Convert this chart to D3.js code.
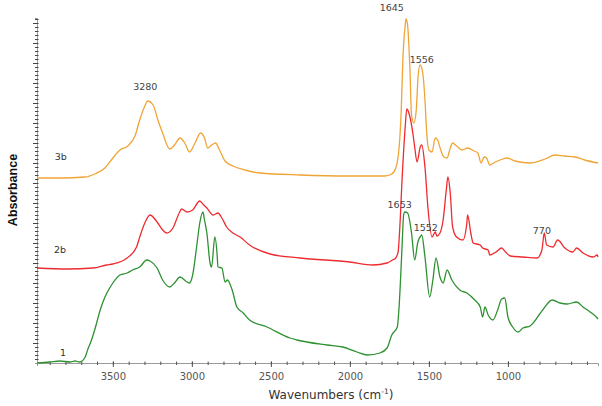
<!DOCTYPE html>
<html>
<head>
<meta charset="utf-8">
<script src="https://cdn.jsdelivr.net/npm/d3@7"></script>
<style>
  body { margin: 0; background: #fff; }
  svg { display: block; }
</style>
</head>
<body>
<svg class="chart" width="602" height="406"></svg>
<script>
// spectra as [wavenumber (cm-1), absorbance]
const spectrum3b = [
  [3980, 1.85], [3835, 1.85], [3675, 1.86], [3615, 1.89], [3550, 1.95], [3500, 2.05],
  [3455, 2.13], [3405, 2.17], [3360, 2.27], [3330, 2.43], [3295, 2.58], [3280, 2.62],
  [3245, 2.58], [3215, 2.43], [3185, 2.30], [3140, 2.14], [3110, 2.18], [3075, 2.25],
  [3045, 2.20], [3015, 2.11], [2980, 2.20], [2945, 2.30], [2920, 2.25], [2900, 2.15],
  [2875, 2.18], [2850, 2.20], [2825, 2.13], [2790, 2.02], [2740, 1.97], [2665, 1.93],
  [2570, 1.90], [2315, 1.88], [2000, 1.87], [1780, 1.87], [1735, 1.89], [1710, 1.95],
  [1690, 2.13], [1675, 2.53], [1665, 3.03], [1650, 3.38], [1645, 3.44], [1635, 3.38],
  [1620, 2.93], [1610, 2.48], [1595, 2.40], [1580, 2.53], [1570, 2.83], [1556, 2.98],
  [1540, 2.91], [1525, 2.63], [1515, 2.33], [1500, 2.13], [1480, 2.11], [1460, 2.25],
  [1445, 2.23], [1425, 2.13], [1405, 2.06], [1385, 2.05], [1365, 2.15], [1350, 2.20],
  [1325, 2.17], [1290, 2.13], [1255, 2.15], [1215, 2.12], [1190, 2.10], [1170, 2.00],
  [1150, 2.06], [1135, 2.05], [1115, 1.98], [1080, 2.01], [1050, 2.03], [1005, 2.05],
  [955, 2.02], [860, 2.00], [765, 2.04], [700, 2.08], [640, 2.07], [575, 2.06],
  [515, 2.03], [430, 2.00]
];

const spectrum2b = [
  [3980, 0.95], [3790, 0.94], [3625, 0.95], [3540, 0.98], [3500, 0.99], [3410, 1.05],
  [3350, 1.16], [3330, 1.26], [3295, 1.41], [3265, 1.48], [3220, 1.41], [3185, 1.33],
  [3160, 1.30], [3120, 1.35], [3080, 1.50], [3065, 1.54], [3030, 1.51], [2995, 1.53],
  [2950, 1.62], [2925, 1.58], [2905, 1.55], [2865, 1.48], [2835, 1.50], [2810, 1.45],
  [2780, 1.36], [2740, 1.30], [2695, 1.26], [2635, 1.18], [2505, 1.09], [2315, 1.05],
  [2000, 1.01], [1855, 0.98], [1765, 1.00], [1730, 1.03], [1710, 1.05], [1695, 1.11],
  [1685, 1.33], [1670, 1.83], [1650, 2.36], [1640, 2.54], [1620, 2.46], [1600, 2.28],
  [1590, 2.16], [1575, 2.01], [1555, 2.16], [1545, 2.18], [1525, 1.96], [1505, 1.53],
  [1480, 1.26], [1460, 1.31], [1450, 1.27], [1430, 1.30], [1410, 1.43], [1390, 1.73],
  [1380, 1.86], [1365, 1.70], [1350, 1.36], [1325, 1.26], [1285, 1.23], [1260, 1.40],
  [1255, 1.48], [1235, 1.30], [1220, 1.20], [1175, 1.18], [1160, 1.15], [1125, 1.13],
  [1115, 1.08], [1075, 1.11], [1040, 1.15], [1015, 1.11], [985, 1.07], [905, 1.06],
  [815, 1.05], [785, 1.13], [770, 1.30], [755, 1.18], [715, 1.16], [685, 1.23],
  [640, 1.15], [590, 1.11], [565, 1.15], [525, 1.10], [460, 1.06], [435, 1.08], [430, 1.06]
];

const spectrum1 = [
  [3980, 0.00], [3900, 0.01], [3835, 0.02], [3770, 0.01], [3740, 0.02], [3710, 0.01],
  [3675, 0.06], [3660, 0.13], [3635, 0.23], [3615, 0.33], [3580, 0.53], [3550, 0.66],
  [3520, 0.75], [3500, 0.80], [3455, 0.88], [3410, 0.90], [3375, 0.93], [3330, 0.96],
  [3285, 1.03], [3265, 1.02], [3220, 0.95], [3185, 0.83], [3140, 0.76], [3110, 0.80],
  [3075, 0.86], [3030, 0.81], [3015, 0.80], [2995, 0.88], [2970, 1.16], [2950, 1.40],
  [2930, 1.51], [2920, 1.43], [2905, 1.30], [2885, 1.00], [2875, 0.96], [2855, 1.26],
  [2840, 1.08], [2835, 0.96], [2810, 0.95], [2790, 0.81], [2775, 0.83], [2745, 0.73],
  [2715, 0.56], [2675, 0.50], [2635, 0.43], [2525, 0.36], [2380, 0.25], [2335, 0.23],
  [2145, 0.18], [2045, 0.16], [1955, 0.11], [1890, 0.08], [1810, 0.10], [1765, 0.15],
  [1735, 0.28], [1700, 0.36], [1690, 0.53], [1670, 1.16], [1660, 1.48], [1653, 1.51],
  [1635, 1.50], [1610, 1.30], [1590, 1.03], [1570, 1.21], [1552, 1.27], [1545, 1.28],
  [1525, 1.06], [1495, 0.66], [1475, 0.83], [1455, 1.05], [1430, 0.86], [1410, 0.80],
  [1385, 0.93], [1355, 0.83], [1305, 0.73], [1260, 0.70], [1210, 0.63], [1175, 0.56],
  [1160, 0.46], [1145, 0.56], [1125, 0.48], [1095, 0.43], [1065, 0.53], [1040, 0.64],
  [1020, 0.65], [1000, 0.46], [970, 0.36], [935, 0.31], [905, 0.35], [860, 0.37],
  [780, 0.53], [720, 0.63], [670, 0.60], [625, 0.59], [565, 0.61], [525, 0.56],
  [480, 0.51], [435, 0.45], [430, 0.44]
];

const seriesNames = ["3b", "2b", "1"];
const seriesColors = ["#F0A436", "#EE2B2E", "#2F9132"];
const seriesLabelPos = [[3830, 2.06], [3835, 1.13], [3815, 0.10]];

// peak annotations: text, wavenumber, absorbance of the label centre
const peakTexts = ["3280", "1645", "1556", "1653", "1552", "770"];
const peakLabelPos = [[3295, 2.76], [1735, 3.55], [1545, 3.03], [1685, 1.58], [1520, 1.35], [785, 1.32]];

const xTickLabels = [3500, 3000, 2500, 2000, 1500, 1000];

const svg = d3.select('.chart');
const plot = { left: 37, right: 598, top: 18, bottom: 363 };

const x = d3.scaleLinear().domain([3980, 430]).range([plot.left, plot.right]);
const y = d3.scaleLinear().domain([0, 3.45]).range([plot.bottom, plot.top]);

const line = d3.line()
  .x(d => x(d[0]))
  .y(d => y(d[1]))
  .curve(d3.curveMonotoneX);

// axes
const xAxis = svg.append('g')
  .attr('transform', `translate(0,${plot.bottom})`)
  .call(d3.axisBottom(x).tickValues(d3.range(3900, 430, -100)).tickSize(3).tickFormat(''));
xAxis.select('.domain').attr('stroke', '#9a9a9a');
xAxis.selectAll('.tick line').attr('stroke', '#555').attr('y1', -1.5).attr('y2', 2);

const xLabels = svg.append('g')
  .attr('transform', `translate(0,${plot.bottom})`)
  .call(d3.axisBottom(x).tickValues(xTickLabels).tickSize(4).tickPadding(6).tickFormat(d3.format('d')));
xLabels.select('.domain').remove();
xLabels.selectAll('.tick line').attr('stroke', '#555').attr('y1', -1.5);
xLabels.selectAll('.tick text')
  .attr('fill', '#555')
  .attr('font-family', 'DejaVu Sans, sans-serif')
  .attr('font-size', 10);

const yAxis = svg.append('g')
  .attr('transform', `translate(${plot.left},0)`)
  .call(d3.axisLeft(y).tickValues(d3.range(0.04, 3.45, 0.04)).tickSize(2).tickFormat(''));
yAxis.select('.domain').attr('stroke', '#9a9a9a');
yAxis.selectAll('.tick line').attr('stroke', '#444').attr('x2', -2).attr('x1', 1.5);
yAxis.selectAll('.tick')
  .filter((d, i) => i % 5 === 4)
  .select('line').attr('x2', -4);

// spectra
[spectrum3b, spectrum2b, spectrum1].forEach((s, i) => {
  svg.append('path')
    .datum(s)
    .attr('fill', 'none')
    .attr('stroke', seriesColors[i])
    .attr('stroke-width', 1.3)
    .attr('stroke-linejoin', 'round')
    .attr('d', line);
});

// series labels
svg.selectAll('.series-label')
  .data(seriesNames)
  .join('text')
  .attr('class', 'series-label')
  .attr('x', (d, i) => x(seriesLabelPos[i][0]))
  .attr('y', (d, i) => y(seriesLabelPos[i][1]))
  .attr('text-anchor', 'middle')
  .attr('dominant-baseline', 'middle')
  .attr('font-family', 'DejaVu Sans, sans-serif')
  .attr('font-size', 9.5)
  .attr('fill', '#333')
  .text(d => d);

// peak labels
svg.selectAll('.peak-label')
  .data(peakTexts)
  .join('text')
  .attr('class', 'peak-label')
  .attr('x', (d, i) => x(peakLabelPos[i][0]))
  .attr('y', (d, i) => y(peakLabelPos[i][1]))
  .attr('text-anchor', 'middle')
  .attr('dominant-baseline', 'middle')
  .attr('font-family', 'DejaVu Sans, sans-serif')
  .attr('font-size', 9.5)
  .attr('fill', '#444')
  .text(d => d);

// axis titles
const xTitle = svg.append('text')
  .attr('x', 331)
  .attr('y', 399)
  .attr('text-anchor', 'middle')
  .attr('font-family', 'DejaVu Sans, sans-serif')
  .attr('font-size', 12)
  .attr('fill', '#333');
xTitle.append('tspan').text('Wavenumbers (cm');
xTitle.append('tspan').attr('font-size', 7.5).attr('dy', -5).text('-1');
xTitle.append('tspan').attr('dy', 5).text(')');

svg.append('text')
  .attr('transform', 'translate(17,190) rotate(-90)')
  .attr('text-anchor', 'middle')
  .attr('font-family', 'Liberation Sans, Arial, sans-serif')
  .attr('font-weight', 'bold')
  .attr('font-size', 12.5)
  .attr('fill', '#111')
  .text('Absorbance');
</script>
</body>
</html>
